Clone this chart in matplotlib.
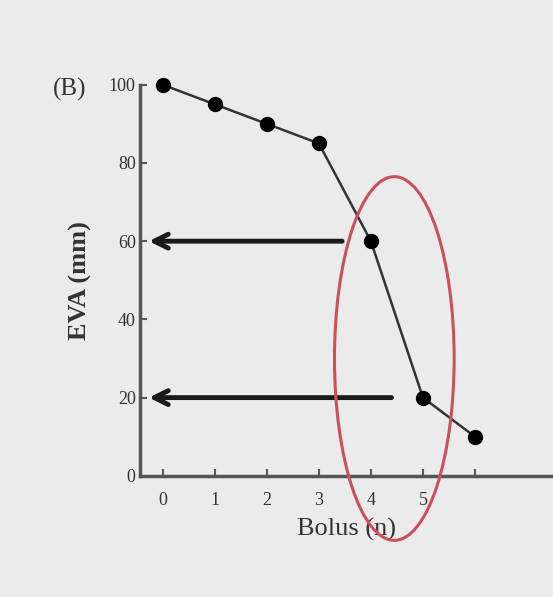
import numpy as np
import matplotlib.pyplot as plt
from matplotlib.patches import Ellipse

bolus = [0, 1, 2, 3, 4, 5, 6]
eva = [100, 95, 90, 85, 60, 20, 10]
x_ticks = [0, 1, 2, 3, 4, 5, 6]
x_labels = ['0', '1', '2', '3', '4', '5', '']
y_ticks = [0, 20, 40, 60, 80, 100]

# arrows: (start x, level)
arrows = [(3.5, 60), (4.45, 20)]

plt.rcParams['font.family'] = ['Liberation Serif', 'DejaVu Serif']

fig = plt.figure(figsize=(5.53, 5.97), dpi=100, facecolor='#ebebeb')
ax = fig.add_axes([0.253, 0.203, 0.747, 0.655])
ax.set_facecolor('#ebebeb')

ax.plot(bolus, eva, color='#333333', lw=1.8, marker='o', ms=10,
        mfc='black', mec='black', clip_on=False, zorder=3)

for x0, lev in arrows:
    ax.annotate('', xy=(-0.32, lev), xytext=(x0, lev),
                arrowprops=dict(arrowstyle='->,head_length=1.0,head_width=0.5',
                                color='#1a1a1a', lw=3.5))

ell = Ellipse((4.45, 30), 2.3, 93, fill=False, edgecolor='#c9505c',
              lw=2.2, clip_on=False, zorder=4)
ax.add_patch(ell)

ax.set_xlim(-0.44, 7.5)
ax.set_ylim(0, 100)
ax.set_xticks(x_ticks)
ax.set_xticklabels(x_labels)
ax.set_yticks(y_ticks)
ax.tick_params(direction='in', length=5, width=1.5, color='#555555',
               labelsize=13, labelcolor='#333333')
ax.tick_params(axis='x', pad=12)
ax.tick_params(axis='y', pad=3)
for s in ['top', 'right']:
    ax.spines[s].set_visible(False)
for s in ['left', 'bottom']:
    ax.spines[s].set_color('#555555')
    ax.spines[s].set_linewidth(2.5)

ax.set_xlabel('Bolus (n)', fontsize=19, color='#333333', labelpad=6)
ax.set_ylabel('EVA (mm)', fontsize=19, color='#333333', fontweight='bold', labelpad=12)
fig.text(0.095, 0.84, '(B)', fontsize=18, color='#333333')

fig.savefig('out.png', dpi=100, facecolor=fig.get_facecolor())
